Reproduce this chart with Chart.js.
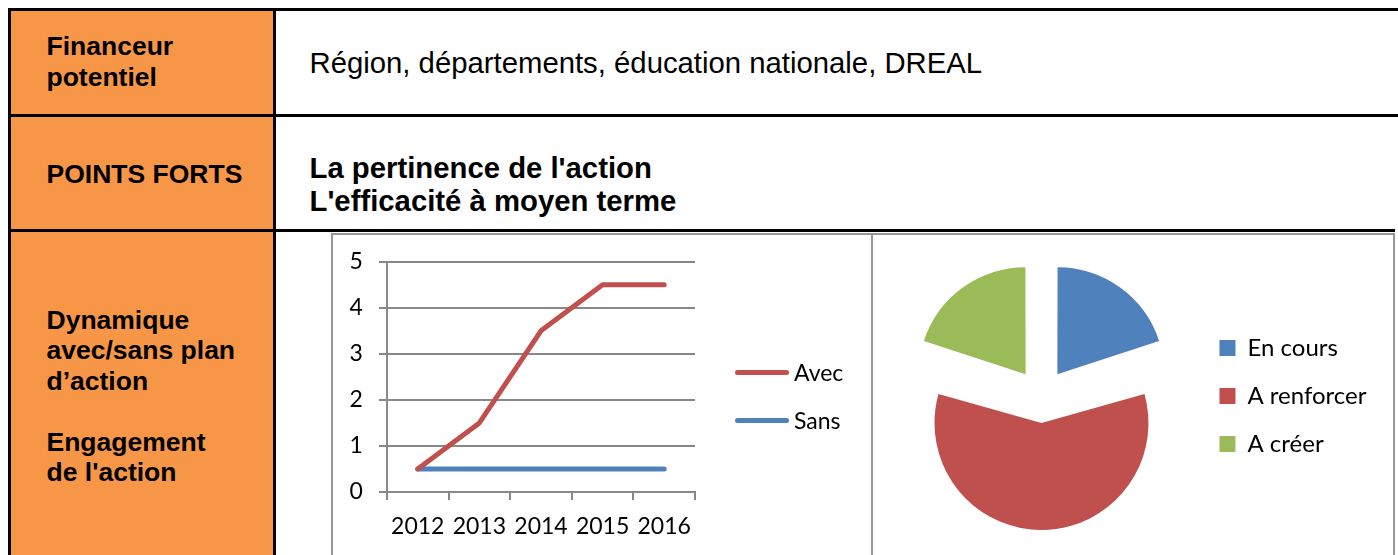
<!DOCTYPE html>
<html lang="fr">
<head>
<meta charset="utf-8">
<script src="https://cdn.jsdelivr.net/npm/chart.js@4.4.1/dist/chart.umd.min.js"></script>
<style>
  html, body { margin: 0; padding: 0; background: #fff; }
  body { width: 1398px; height: 555px; overflow: hidden; position: relative; font-family: "Liberation Sans", Arial, sans-serif; color: #000; }
  .rule { position: absolute; background: #000; }
  .cell { position: absolute; background: #F79646; }
  .label { position: absolute; left: 46.5px; font-weight: bold; font-size: 26.5px; line-height: 30.5px; white-space: nowrap; }
  .content { position: absolute; left: 309.5px; font-size: 29.3px; line-height: 33.35px; white-space: nowrap; }
  .frame { position: absolute; top: 233px; height: 400px; box-sizing: border-box; border: 2px solid #979797; border-bottom: none; }
  canvas { position: absolute; }
  #lineLegend { position: absolute; left: 735px; top: 348px; font-family: Lato, "Open Sans", sans-serif; font-size: 23px; }
  .legend-item { height: 48px; display: flex; align-items: center; white-space: nowrap; }
  .legend-line { display: inline-block; width: 54px; height: 5px; border-radius: 2.5px; margin-right: 5px; }
</style>
</head>
<body>
  <div class="cell" style="left:11px;top:11px;width:262px;height:103px"></div>
  <div class="cell" style="left:11px;top:117px;width:262px;height:112px"></div>
  <div class="cell" style="left:11px;top:232px;width:262px;height:330px"></div>

  <div class="rule" style="left:8px;top:8px;width:1390px;height:3px"></div>
  <div class="rule" style="left:8px;top:114px;width:1390px;height:3px"></div>
  <div class="rule" style="left:8px;top:229px;width:1387px;height:3px"></div>
  <div class="rule" style="left:8px;top:8px;width:3px;height:550px"></div>
  <div class="rule" style="left:273px;top:8px;width:3px;height:550px"></div>

  <div class="label" style="top:31.3px">Financeur<br>potentiel</div>
  <div class="label" style="top:158.9px">POINTS FORTS</div>
  <div class="label" style="top:304.6px">Dynamique<br>avec/sans plan<br>d’action<br><br>Engagement<br>de l'action</div>

  <div class="content" style="top:45.8px">Région, départements, éducation nationale, DREAL</div>
  <div class="content" style="top:151px;font-weight:bold">La pertinence de l'action<br>L'efficacité à moyen terme</div>

  <div class="frame" style="left:331px;width:542px"></div>
  <div class="frame" style="left:871px;width:524px"></div>

  <canvas id="lineChart" width="538" height="328" style="left:333px;top:232px;width:538px;height:328px"></canvas>
  <div id="lineLegend"></div>
  <canvas id="pieChart" width="520" height="320" style="left:873px;top:235px;width:520px;height:320px"></canvas>

<script>
const years = ['2012', '2013', '2014', '2015', '2016'];
const avecValues = [0.5, 1.5, 3.5, 4.5, 4.5];
const sansValues = [0.5, 0.5, 0.5, 0.5, 0.5];

const pieLabels = ['En cours', 'A renforcer', 'A créer'];
const pieValues = [1, 3, 1];

const gridGray = '#888888';
const pieRadius = 107;

Chart.defaults.font.family = 'Lato, "Open Sans", sans-serif';
Chart.defaults.font.size = 23;
Chart.defaults.color = '#000';

// legend of the line chart is built in html from the chart's own legend items
const htmlLegend = {
  id: 'htmlLegend',
  afterUpdate(chart) {
    const box = document.getElementById('lineLegend');
    box.innerHTML = '';
    chart.options.plugins.legend.labels.generateLabels(chart).forEach(item => {
      const row = document.createElement('div');
      row.className = 'legend-item';
      const swatch = document.createElement('span');
      swatch.className = 'legend-line';
      swatch.style.background = item.strokeStyle;
      const text = document.createElement('span');
      text.textContent = item.text;
      row.append(swatch, text);
      box.append(row);
    });
  }
};

new Chart(document.getElementById('lineChart'), {
  type: 'line',
  data: {
    labels: years,
    datasets: [
      {
        label: 'Avec',
        data: avecValues,
        borderColor: '#C0504D',
        backgroundColor: '#C0504D',
        borderWidth: 5,
        borderCapStyle: 'round',
        borderJoinStyle: 'round',
        pointRadius: 0,
        tension: 0
      },
      {
        label: 'Sans',
        data: sansValues,
        borderColor: '#4F81BD',
        backgroundColor: '#4F81BD',
        borderWidth: 5,
        borderCapStyle: 'round',
        borderJoinStyle: 'round',
        pointRadius: 0,
        tension: 0
      }
    ]
  },
  options: {
    responsive: false,
    animation: false,
    layout: { padding: { left: 0.6, right: 176, top: 28, bottom: 6.4 } },
    scales: {
      x: {
        offset: true,
        grid: { offset: true, drawOnChartArea: false, color: gridGray, lineWidth: 2, tickLength: 8 },
        border: { color: gridGray, width: 2 },
        ticks: { padding: 13, maxRotation: 0, autoSkip: false }
      },
      y: {
        min: 0,
        max: 5,
        ticks: { stepSize: 1, padding: 16 },
        grid: { color: gridGray, lineWidth: 2, tickLength: 8 },
        border: { color: gridGray, width: 2 }
      }
    },
    plugins: {
      legend: { display: false },
      tooltip: { enabled: false }
    }
  },
  plugins: [htmlLegend]
});

// chart.js grows slices wider than 180deg when they are offset, keep all radii equal
const evenRadius = {
  id: 'evenRadius',
  beforeDatasetsDraw(chart) {
    chart.getDatasetMeta(0).data.forEach(arc => {
      const shift = (arc.options.offset || 0) / 4;
      const fix = 1 - Math.sin(Math.min(Math.PI, arc.circumference));
      arc.outerRadius = pieRadius - shift * fix;
    });
  }
};

new Chart(document.getElementById('pieChart'), {
  type: 'pie',
  data: {
    labels: pieLabels,
    datasets: [{
      data: pieValues,
      backgroundColor: ['#4F81BD', '#C0504D', '#9BBB59'],
      borderWidth: 0,
      offset: 108
    }]
  },
  options: {
    responsive: false,
    animation: false,
    radius: pieRadius,
    layout: { padding: { left: 14.5, right: 16.5, top: 2, bottom: 0 } },
    plugins: {
      legend: {
        position: 'right',
        labels: { boxWidth: 16, boxHeight: 16, padding: 24, font: { size: 24 } }
      },
      tooltip: { enabled: false }
    }
  },
  plugins: [evenRadius]
});
</script>
</body>
</html>
